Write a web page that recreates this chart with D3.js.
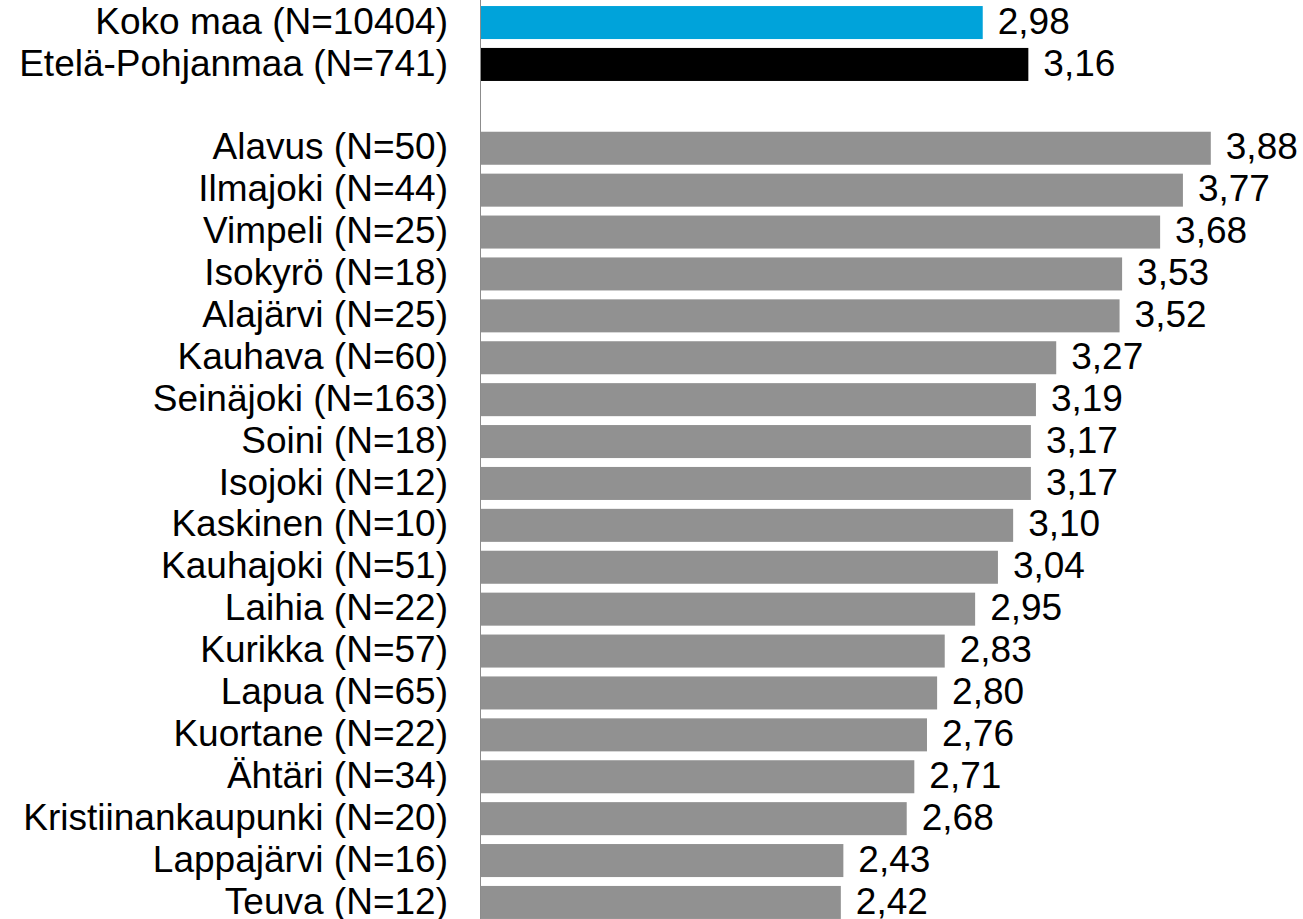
<!DOCTYPE html>
<html>
<head>
<meta charset="utf-8">
<script src="https://cdn.jsdelivr.net/npm/d3@7"></script>
<style>
  html, body { margin: 0; padding: 0; background: #fff; }
  svg { display: block; font-family: "Liberation Sans", Arial, sans-serif; }
</style>
</head>
<body>
<div id="chart"></div>
<script>
// categories in display order ('' = empty spacer row)
const categories = [
  'Koko maa (N=10404)', 'Etelä-Pohjanmaa (N=741)', '',
  'Alavus (N=50)', 'Ilmajoki (N=44)', 'Vimpeli (N=25)', 'Isokyrö (N=18)',
  'Alajärvi (N=25)', 'Kauhava (N=60)', 'Seinäjoki (N=163)', 'Soini (N=18)',
  'Isojoki (N=12)', 'Kaskinen (N=10)', 'Kauhajoki (N=51)', 'Laihia (N=22)',
  'Kurikka (N=57)', 'Lapua (N=65)', 'Kuortane (N=22)', 'Ähtäri (N=34)',
  'Kristiinankaupunki (N=20)', 'Lappajärvi (N=16)', 'Teuva (N=12)'
];
const values = [
  2.98, 3.16, null,
  3.88, 3.77, 3.68, 3.53, 3.52, 3.27, 3.19, 3.17, 3.17,
  3.10, 3.04, 2.95, 2.83, 2.80, 2.76, 2.71, 2.68, 2.43, 2.42
];
const barColors = ['#00a3da', '#000000'];   // first two rows, rest are grey

const width = 1303, height = 919;
const axisX = 481;

const svg = d3.select('#chart').append('svg')
  .attr('width', width)
  .attr('height', height);

// scale starts at 1 (the scale minimum of the original chart)
const x = d3.scaleLinear().domain([1, 5]).range([axisX, axisX + 4 * 253.4]);

const y = d3.scaleBand()
  .domain(d3.range(categories.length))
  .range([1.6, 1.6 + categories.length * 41.9])
  .paddingInner(0.212)
  .paddingOuter(0.106);

const rows = categories.map((c, i) => ({ label: c, value: values[i], i }));

// bars
svg.selectAll('rect.bar')
  .data(rows.filter(d => d.value != null))
  .enter().append('rect')
  .attr('class', 'bar')
  .attr('x', x(1))
  .attr('y', d => y(d.i))
  .attr('width', d => x(d.value) - x(1))
  .attr('height', y.bandwidth())
  .attr('fill', d => d.i < 2 ? barColors[d.i] : '#919191');

// value labels
const fmt = d3.formatLocale({ decimal: ',', thousands: ' ', grouping: [3], currency: ['', '€'] }).format('.2f');
svg.selectAll('text.val')
  .data(rows.filter(d => d.value != null))
  .enter().append('text')
  .attr('class', 'val')
  .attr('x', d => x(d.value) + 15)
  .attr('y', d => y(d.i) + y.bandwidth() / 2)
  .attr('dy', '0.3em')
  .style('font-size', '37px')
  .attr('fill', '#000')
  .text(d => fmt(d.value));

// category labels
svg.selectAll('text.cat')
  .data(rows.filter(d => d.label))
  .enter().append('text')
  .attr('class', 'cat')
  .attr('x', axisX - 33)
  .attr('y', d => y(d.i) + y.bandwidth() / 2)
  .attr('dy', '0.3em')
  .attr('text-anchor', 'end')
  .style('font-size', '37px')
  .attr('fill', '#000')
  .text(d => d.label);

// vertical axis line
svg.append('line')
  .attr('x1', axisX - 0.5).attr('x2', axisX - 0.5)
  .attr('y1', 0).attr('y2', height)
  .attr('stroke', '#8c8c8c')
  .attr('stroke-width', 1);
</script>
</body>
</html>
